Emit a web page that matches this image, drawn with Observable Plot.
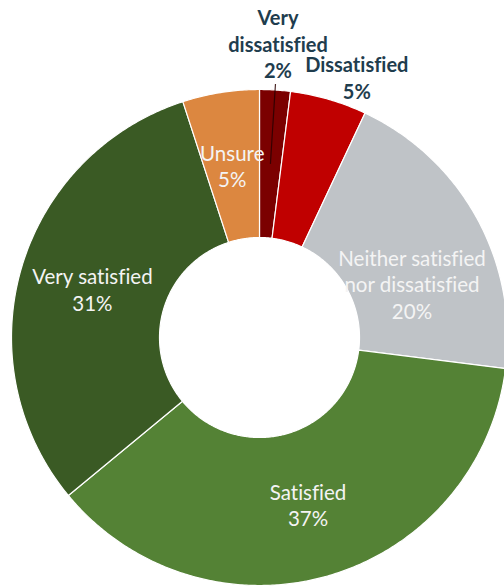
<!DOCTYPE html>
<html>
<head>
<meta charset="utf-8">
<script src="https://cdn.jsdelivr.net/npm/d3@7"></script>
<script src="https://cdn.jsdelivr.net/npm/@observablehq/plot@0.6"></script>
<style>
  html, body { margin: 0; padding: 0; background: #ffffff; }
  #chart svg { display: block; font-variant-ligatures: none; }
  #chart svg text { font-variant-ligatures: none; }
</style>
</head>
<body>
<div id="chart"></div>
<script>
// Survey responses: satisfaction, shares in percent (clockwise from 12 o'clock)
const categories = [
  "Very dissatisfied",
  "Dissatisfied",
  "Neither satisfied nor dissatisfied",
  "Satisfied",
  "Very satisfied",
  "Unsure"
];
const shares = [2, 5, 20, 37, 31, 5];
const labelLines = [
  ["Very", "dissatisfied"],
  ["Dissatisfied"],
  ["Neither satisfied", "nor dissatisfied"],
  ["Satisfied"],
  ["Very satisfied"],
  ["Unsure"]
];
const outsideLabels = ["Very dissatisfied", "Dissatisfied"];

// Layout and style
const W = 504, H = 586;
const cx = 259, cy = 337;           // donut centre in pixels
const outerR = 248, innerR = 100;
const palette = ["#7b0000", "#c00000", "#bfc3c7", "#548235", "#3a5a24", "#dc8740"];
const insideInk = "#f4f4f4", outsideInk = "#1f3d4e";
const labelRadius = {inside: (outerR + innerR) / 2, outside: 295};
const labelNudge = {                // pixel shifts (right, down)
  "Dissatisfied": [15, 23],
  "Neither satisfied nor dissatisfied": [0, 30]
};
const fontFamily = "Lato, 'Open Sans', sans-serif";
const fontSize = 20.5;

const rows = categories.map((category, i) => ({category, share: shares[i], lines: labelLines[i]}));
const arcs = d3.pie().sort(null).value(d => d.share)(rows);
const polar = (r, a) => ({x: r * Math.sin(a), y: r * Math.cos(a)});

// Ring segments as closed polygons in data space (1 unit = 1 pixel, y up)
const slicePoints = arcs.flatMap(a => {
  const n = Math.max(2, Math.ceil((a.endAngle - a.startAngle) / (Math.PI / 360)));
  const pts = [];
  for (let i = 0; i <= n; ++i) pts.push({key: a.data.category, ...polar(outerR, a.startAngle + (a.endAngle - a.startAngle) * i / n)});
  for (let i = n; i >= 0; --i) pts.push({key: a.data.category, ...polar(innerR, a.startAngle + (a.endAngle - a.startAngle) * i / n)});
  pts.push({...pts[0]});
  return pts;
});

const labels = arcs.map(a => {
  const mid = (a.startAngle + a.endAngle) / 2;
  const outside = outsideLabels.includes(a.data.category);
  const p = polar(outside ? labelRadius.outside : labelRadius.inside, mid);
  const [nx, ny] = labelNudge[a.data.category] || [0, 0];
  return {
    category: a.data.category,
    outside,
    mid,
    x: p.x + nx,
    y: p.y - ny,
    text: [...a.data.lines, `${a.data.share}%`].join("\n")
  };
});

// Leader from the small outside-labelled slice to its label
const leaders = labels.filter(d => d.category === "Very dissatisfied").map(d => ({
  x1: polar(labelRadius.inside, d.mid).x, y1: polar(labelRadius.inside, d.mid).y,
  x2: polar(254, d.mid).x, y2: polar(254, d.mid).y
}));

const chart = Plot.plot({
  width: W,
  height: H,
  margin: 0,
  x: {domain: [-cx, W - cx], axis: null},
  y: {domain: [cy - H, cy], axis: null},
  color: {domain: categories, range: palette},
  style: {fontFamily, background: "#ffffff", overflow: "visible"},
  marks: [
    Plot.line(slicePoints, {
      x: "x", y: "y", z: "key", fill: "key",
      stroke: "#ffffff", strokeWidth: 1.2, strokeLinejoin: "round", curve: "linear"
    }),
    Plot.link(leaders, {x1: "x1", y1: "y1", x2: "x2", y2: "y2", stroke: "#2a0000", strokeWidth: 1.2, strokeOpacity: 0.85}),
    Plot.text(labels.filter(d => !d.outside), {
      x: "x", y: "y", text: "text",
      fill: insideInk, fontSize, lineHeight: 1.3, textAnchor: "middle", lineAnchor: "middle"
    }),
    Plot.text(labels.filter(d => d.outside), {
      x: "x", y: "y", text: "text",
      fill: outsideInk, fontSize: 20, fontWeight: "bold", lineHeight: 1.33, textAnchor: "middle", lineAnchor: "middle"
    })
  ]
});

document.getElementById("chart").append(chart);
</script>
</body>
</html>
